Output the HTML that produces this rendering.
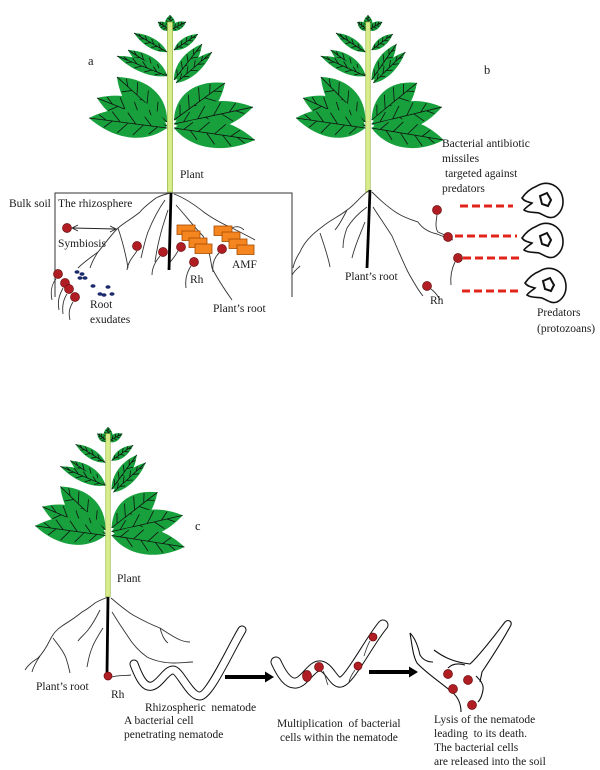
<!DOCTYPE html>
<html><head><meta charset="utf-8"><style>
html,body{margin:0;padding:0;background:#fff;}
svg{display:block;}
text{font-family:"Liberation Serif",serif;font-size:11.5px;fill:#1a1a1a;}
</style></head><body>
<svg width="600" height="770" viewBox="0 0 600 770" xmlns="http://www.w3.org/2000/svg">
<defs>
<g id="leaf">
<path d="M0,0 C25,-20 65,-20 100,0 C65,20 25,20 0,0Z" fill="#17a03c"/>
<path d="M0,0 L100,0 M12,0 L22,-9 M30,0 L42,-12 M50,0 L62,-12 M70,0 L80,-8 M20,0 L30,9 M40,0 L52,11 M60,0 L72,10 M78,0 L88,5" fill="none" stroke="#111" stroke-width="0.8" vector-effect="non-scaling-stroke"/>
</g>
<g id="plant">
<use href="#leaf" transform="translate(0,15) rotate(-146.3) scale(0.144,0.267)"/>
<use href="#leaf" transform="translate(0,15) rotate(-26.6) scale(0.179,0.267)"/>
<use href="#leaf" transform="translate(0,15) rotate(-90) scale(0.15,0.333)"/>
<use href="#leaf" transform="translate(-3,37) rotate(-150.1) scale(0.381,0.333)"/>
<use href="#leaf" transform="translate(4,35) rotate(-33.7) scale(0.288,0.3)"/>
<use href="#leaf" transform="translate(-3,60) rotate(-147.3) scale(0.463,0.467)"/>
<use href="#leaf" transform="translate(-3,61) rotate(-158.2) scale(0.539,0.4)"/>
<use href="#leaf" transform="translate(4,65) rotate(-52.1) scale(0.456,0.467)"/>
<use href="#leaf" transform="translate(6,68) rotate(-40.7) scale(0.475,0.4)"/>
<use href="#leaf" transform="translate(-3,107) rotate(-138) scale(0.673,1)"/>
<use href="#leaf" transform="translate(-3,111) rotate(-158.2) scale(0.754,0.933)"/>
<use href="#leaf" transform="translate(-3,113) rotate(-172.7) scale(0.786,0.933)"/>
<use href="#leaf" transform="translate(4,105) rotate(-36) scale(0.63,1)"/>
<use href="#leaf" transform="translate(4,109) rotate(-12.1) scale(0.808,0.933)"/>
<use href="#leaf" transform="translate(4,113) rotate(8.4) scale(0.819,0.933)"/>
<rect x="-2.5" y="7" width="5" height="170" fill="#d8ec8c" stroke="#8fb53a" stroke-width="0.7"/>
</g>
<g id="proto">
<path d="M2,16 C6,10 12,6 17,4 C22,1 28,0 35,4 C41,8 43,14 43,20 C43,26 40,32 34,35 C28,37 24,33 19,31 C14,30 8,31 4,28 C6,25 10,23 12,21 C8,20 4,19 2,16 Z" fill="none" stroke="#111" stroke-width="1.6"/>
<path d="M20,14 L27,11 L31,18 L28,24 L22,22 Z" fill="none" stroke="#111" stroke-width="2"/>
</g>
</defs>

<!-- Plants -->
<use href="#plant" transform="translate(170,15)"/>
<use href="#plant" transform="translate(368,15) scale(0.89,1)"/>
<use href="#plant" transform="translate(108,427) scale(0.9,0.96)"/>

<!-- Panel a -->
<path d="M55,297 L55,193 L292,193 L292,297" fill="none" stroke="#333" stroke-width="1"/>
<g fill="none" stroke="#333" stroke-width="0.9">
<path d="M171,193 C165,194 160,196 156,198 C148,204 143,208 140,212 C133,218 125,222 118,228 C110,236 104,245 98,252 C94,258 92,262 90,268"/>
<path d="M118,228 C122,240 126,255 128,268"/>
<path d="M98,252 C90,258 84,262 78,268"/>
<path d="M165,200 C158,210 152,222 148,232 C145,240 143,250 141,258"/>
<path d="M168,210 C163,225 158,240 155,262"/>
<path d="M174,194 C185,198 195,205 205,213 C215,220 225,225 232,228 C240,232 248,236 255,240"/>
<path d="M232,228 C236,226 240,226 244,230"/>
<path d="M176,205 C185,215 195,228 203,236 C208,244 210,256 212,268 C218,280 225,290 232,300"/>
<path d="M137,251 C132,258 128,262 127,270"/>
<path d="M160,256 C155,262 152,268 152,275"/>
<path d="M178,251 C175,256 172,260 170,262"/>
<path d="M191,266 C187,272 185,280 186,288"/>
<path d="M219,253 C214,258 212,264 213,272"/>
<path d="M56,279 C52,284 50,290 52,300"/>
<path d="M63,288 C60,294 57,300 59,310"/>
<path d="M67,294 C63,300 62,306 63,314"/>
<path d="M73,302 C70,307 68,312 70,320"/>
<path d="M292,275 C295,270 298,268 300,266"/>
</g>
<path d="M171,193 L169,270" stroke="#000" stroke-width="2.8"/>
<!-- symbiosis arrow -->
<path d="M73,228 L115,229" stroke="#222" stroke-width="0.9"/>
<path d="M78,225 L72,228 L78,231 M110,226 L116,229 L110,232" fill="none" stroke="#222" stroke-width="0.9"/>
<!-- AMF boxes -->
<g fill="#f5861f" stroke="#a64b00" stroke-width="0.8">
<rect x="177" y="225" width="18" height="9.5"/>
<rect x="182" y="231" width="18" height="9.5"/>
<rect x="189" y="238" width="18" height="9.5"/>
<rect x="195" y="244" width="17" height="9.5"/>
<rect x="214" y="226" width="18" height="9.5"/>
<rect x="222" y="232" width="18" height="9.5"/>
<rect x="229" y="239" width="18" height="9.5"/>
<rect x="237" y="245" width="17" height="9.5"/>
</g>
<!-- blue dots -->
<g fill="#1b2a6b">
<ellipse cx="77" cy="272" rx="2.5" ry="1.8"/><ellipse cx="82" cy="274" rx="2.5" ry="1.8"/>
<ellipse cx="80" cy="278" rx="2.5" ry="1.8"/><ellipse cx="85" cy="278" rx="2.5" ry="1.8"/>
<ellipse cx="93" cy="286" rx="2.5" ry="1.8"/><ellipse cx="100" cy="294" rx="2.5" ry="1.8"/>
<ellipse cx="104" cy="295" rx="2.5" ry="1.8"/><ellipse cx="108" cy="287" rx="2.5" ry="1.8"/>
<ellipse cx="112" cy="294" rx="2.5" ry="1.8"/>
</g>
<g fill="#b01e23" stroke="#6b0d10" stroke-width="0.7">
<circle cx="67" cy="228" r="4.5"/><circle cx="137" cy="246" r="4.5"/><circle cx="163" cy="252" r="4.5"/>
<circle cx="181" cy="247" r="4.5"/><circle cx="194" cy="262" r="4.5"/><circle cx="222" cy="249" r="4.5"/>
<circle cx="58" cy="274" r="4.5"/><circle cx="65" cy="283" r="4.5"/><circle cx="69" cy="289" r="4.5"/><circle cx="75" cy="297" r="4.5"/>
</g>
<text x="88" y="65" style="font-size:12.5px">a</text>
<text x="180" y="178">Plant</text>
<text x="9" y="207">Bulk  soil</text>
<text x="58" y="207">The rhizosphere</text>
<text x="58" y="247">Symbiosis</text>
<text x="90" y="308">Root</text>
<text x="90" y="323">exudates</text>
<text x="190" y="283">Rh</text>
<text x="232" y="268">AMF</text>
<text x="213" y="312">Plant’s root</text>

<!-- Panel b -->
<g fill="none" stroke="#333" stroke-width="0.9">
<path d="M370,190 C362,194 355,205 347,210 C340,216 330,220 322,227 C315,232 305,240 300,252 C296,258 294,263 293,268"/>
<path d="M347,210 C345,214 340,224 335,230"/>
<path d="M320,233 C324,245 328,256 330,267"/>
<path d="M372,192 C378,198 386,206 397,213 C405,218 412,220 418,222 C422,228 428,232 437,234 C442,236 447,238 453,240"/>
<path d="M373,207 C380,218 387,228 392,236 C398,250 403,262 408,272 C414,283 418,290 423,296"/>
<path d="M367,207 C360,212 352,220 347,228 C344,236 343,242 343,248"/>
<path d="M365,222 C360,235 355,245 352,258"/>
<path d="M437,215 C436,222 435,228 438,232 L447,236"/>
<path d="M455,262 C452,268 450,275 451,285"/>
<path d="M431,289 C435,292 438,296 440,300"/>
</g>
<path d="M370,190 L367,268" stroke="#000" stroke-width="2.8"/>
<g fill="#b01e23" stroke="#6b0d10" stroke-width="0.7">
<circle cx="437" cy="210" r="4.5"/><circle cx="448" cy="237" r="4.5"/><circle cx="458" cy="258" r="4.5"/><circle cx="427" cy="286" r="4.5"/>
</g>
<g stroke="#e2231a" stroke-width="3" stroke-dasharray="8 4">
<path d="M460,206 L513,206"/><path d="M455,236 L517,236"/><path d="M463,258 L520,258"/><path d="M462,291 L522,291"/>
</g>
<use href="#proto" transform="translate(520,182)"/>
<use href="#proto" transform="translate(520,222)"/>
<use href="#proto" transform="translate(523,267)"/>
<text x="484" y="74" style="font-size:12.5px">b</text>
<text x="442" y="147">Bacterial antibiotic</text>
<text x="442" y="162">missiles</text>
<text x="445" y="177">targeted against</text>
<text x="442" y="192">predators</text>
<text x="345" y="280">Plant’s root</text>
<text x="430" y="304">Rh</text>
<text x="537" y="316">Predators</text>
<text x="537" y="332">(protozoans)</text>

<!-- Panel c -->
<g fill="none" stroke="#333" stroke-width="0.9">
<path d="M108,597 C103,599 98,601 95,603 C90,607 86,610 82,612 C75,618 68,622 62,626 C56,630 53,634 50,640 C46,648 42,654 38,658 C32,662 28,665 25,670"/>
<path d="M53,638 C58,645 63,650 66,658 C68,664 69,668 70,673"/>
<path d="M40,656 C36,662 33,668 32,672"/>
<path d="M111,598 C118,604 125,610 133,615 C142,620 152,625 160,628 C166,632 172,636 178,639 C182,641 186,642 190,642"/>
<path d="M160,628 C162,635 164,640 168,643"/>
<path d="M112,612 C117,620 122,628 127,635 C133,645 140,652 147,657 C155,661 165,663 175,663 C182,663 188,662 193,662"/>
<path d="M100,610 C96,618 92,625 88,630 C84,635 80,638 78,641"/>
<path d="M103,628 C98,636 94,642 92,648 C89,655 88,662 87,667"/>
<path d="M112,677 C118,675 124,676 131,675"/>
</g>
<path d="M108,597 L107,673" stroke="#000" stroke-width="2.8"/>
<!-- nematode 1 -->
<path d="M134,664 C140,680 145,688 152,686 C160,684 166,670 173,670 C180,670 190,697 200,696 C210,695 230,650 242,630" fill="none" stroke="#111" stroke-width="9" stroke-linecap="round"/>
<path d="M134,664 C140,680 145,688 152,686 C160,684 166,670 173,670 C180,670 190,697 200,696 C210,695 230,650 242,630" fill="none" stroke="#fff" stroke-width="7" stroke-linecap="round"/>
<!-- nematode 2 -->
<path d="M276,662 C282,675 288,684 296,683 C305,682 312,664 321,666 C330,668 334,684 341,682 C350,680 370,640 383,625" fill="none" stroke="#111" stroke-width="11" stroke-linecap="round"/>
<path d="M276,662 C282,675 288,684 296,683 C305,682 312,664 321,666 C330,668 334,684 341,682 C350,680 370,640 383,625" fill="none" stroke="#fff" stroke-width="9" stroke-linecap="round"/>
<g fill="none" stroke="#333" stroke-width="0.8">
<path d="M370,641 C367,646 366,650 364,656"/>
<path d="M355,670 C352,674 350,678 349,682"/>
<path d="M323,671 C326,676 326,681 328,685"/>
</g>
<!-- nematode 3 (lysed) -->
<g fill="none" stroke="#111" stroke-width="1.1">
<path d="M410,633 C412,645 413,656 417,663 C425,672 440,682 452,692 C458,697 461,703 461,712"/>
<path d="M410,633 C415,638 418,646 420,655 C423,660 428,662 433,662"/>
<path d="M434,650 C442,656 452,662 470,664 C480,655 495,635 505,622 C508,619 512,621 511,625 C503,640 490,660 482,672 L480,682"/>
<path d="M448,668 C452,664 458,663 465,665"/>
<path d="M476,676 C480,680 484,684 483,690 C482,696 480,700 478,702"/>
</g>
<g fill="#b01e23" stroke="#6b0d10" stroke-width="0.7">
<circle cx="108" cy="676" r="4"/>
<circle cx="373" cy="637" r="4"/><circle cx="358" cy="666" r="4"/><circle cx="319" cy="667" r="4.5"/><ellipse cx="307" cy="676" rx="4.5" ry="5.5"/>
<circle cx="448" cy="674" r="4.5"/><circle cx="468" cy="680" r="4.5"/><circle cx="453" cy="689" r="4.5"/><circle cx="472" cy="705" r="4.5"/>
</g>
<!-- arrows -->
<path d="M225,677 L266,677" stroke="#000" stroke-width="4"/>
<polygon points="265,671.5 274,677 265,682.5" fill="#000"/>
<path d="M369,672 L410,672" stroke="#000" stroke-width="4"/>
<polygon points="409,666.5 418,672 409,677.5" fill="#000"/>
<text x="195" y="530" style="font-size:12.5px">c</text>
<text x="117" y="582">Plant</text>
<text x="36" y="690">Plant’s root</text>
<text x="111" y="698">Rh</text>
<text x="145" y="711" xml:space="preserve">Rhizospheric  nematode</text>
<text x="124" y="724">A bacterial cell</text>
<text x="124" y="738">penetrating nematode</text>
<text x="277" y="727" xml:space="preserve">Multiplication  of bacterial</text>
<text x="280" y="741">cells within the nematode</text>
<text x="434" y="723">Lysis of the nematode</text>
<text x="434" y="737" xml:space="preserve">leading  to its death.</text>
<text x="434" y="751">The bacterial cells</text>
<text x="434" y="765">are released into the soil</text>
</svg>
</body></html>
